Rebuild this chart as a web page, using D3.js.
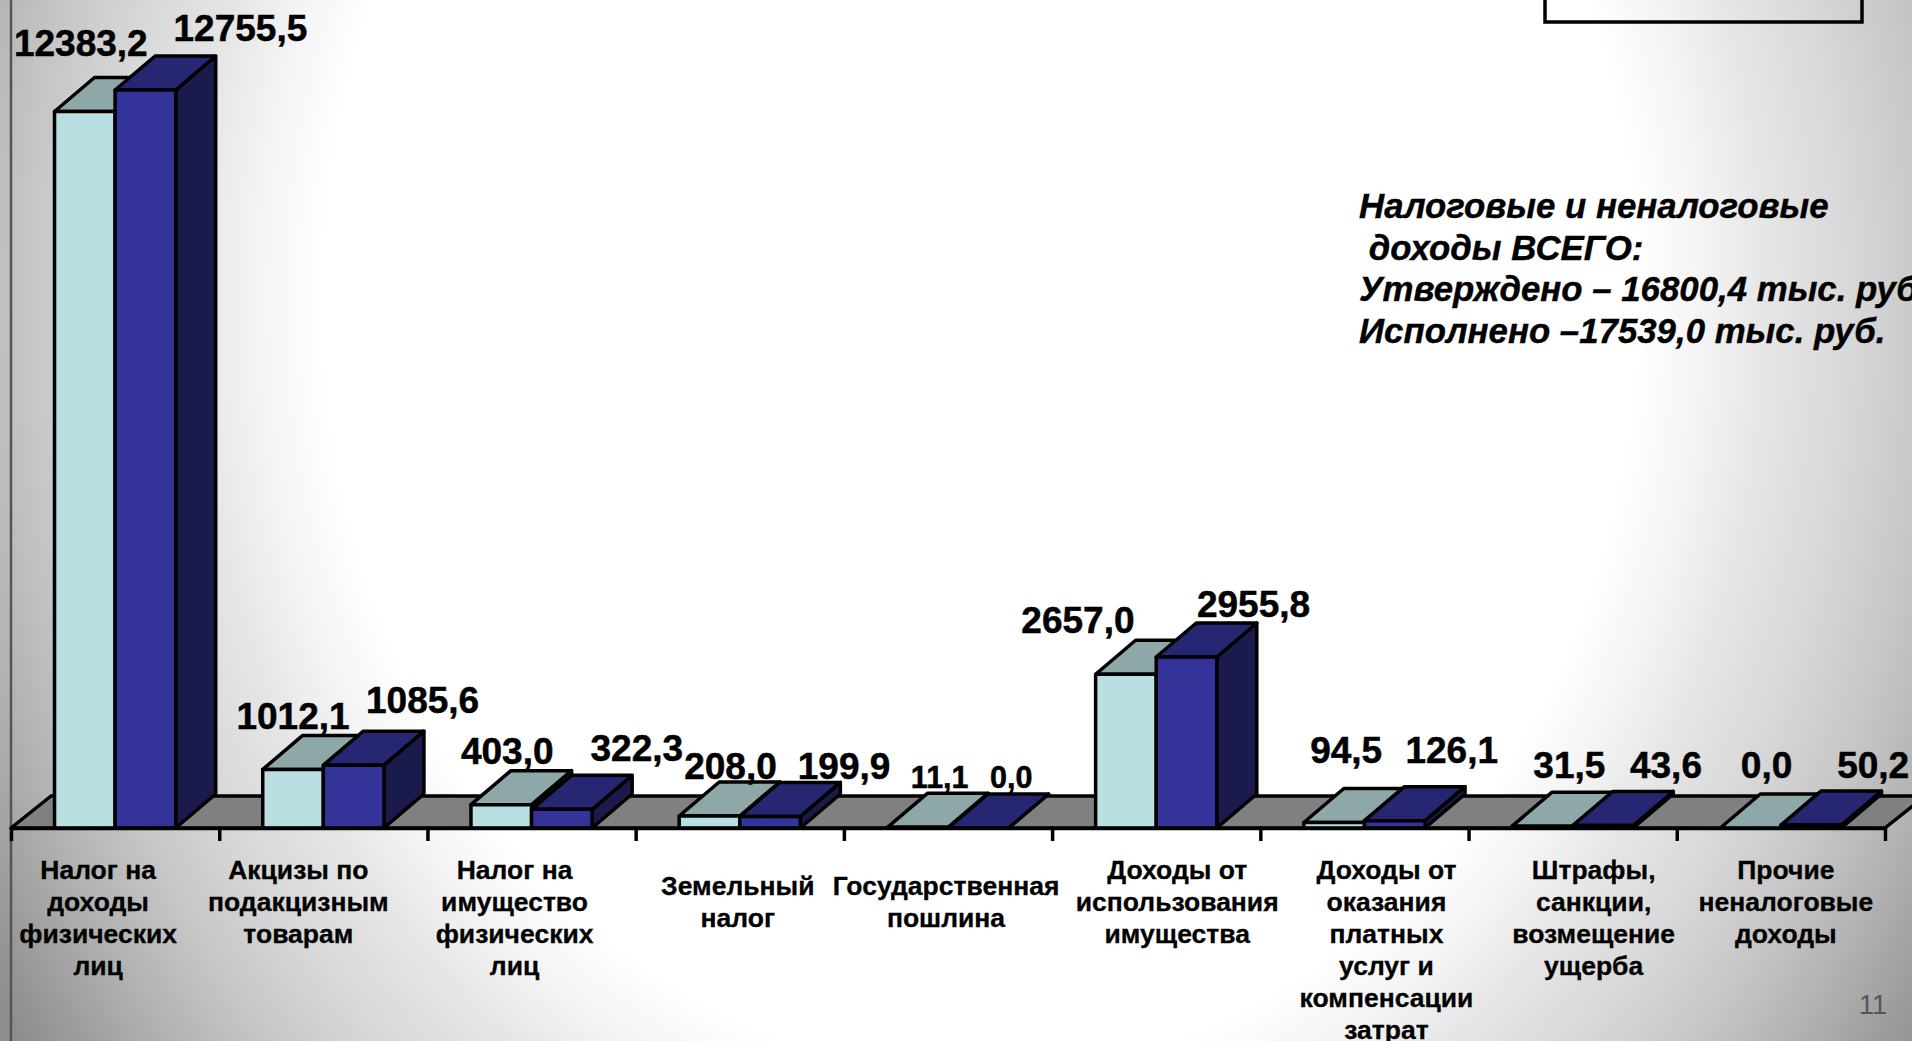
<!DOCTYPE html>
<html>
<head>
<meta charset="utf-8">
<script src="https://cdnjs.cloudflare.com/ajax/libs/d3/7.8.5/d3.min.js"></script>
<style>
html, body { margin: 0; padding: 0; background: #fff; overflow: hidden; }
text { font-family: "Liberation Sans", Arial, sans-serif; fill: #000; }
</style>
</head>
<body>
<svg id="chart" width="1912" height="1041"></svg>
<script>
var categories = [
    ["Налог на", "доходы", "физических", "лиц"],
    ["Акцизы по", "подакцизным", "товарам"],
    ["Налог на", "имущество", "физических", "лиц"],
    ["Земельный", "налог"],
    ["Государственная", "пошлина"],
    ["Доходы от", "использования", "имущества"],
    ["Доходы от", "оказания", "платных", "услуг и", "компенсации", "затрат"],
    ["Штрафы,", "санкции,", "возмещение", "ущерба"],
    ["Прочие", "неналоговые", "доходы"]
];
var approved = [12383.2, 1012.1, 403.0, 208.0, 11.1, 2657.0, 94.5, 31.5, 0.0];
var executed = [12755.5, 1085.6, 322.3, 199.9, 0.0, 2955.8, 126.1, 43.6, 50.2];
var note = [
    "Налоговые и неналоговые",
    " доходы ВСЕГО:",
    "Утверждено – 16800,4 тыс. руб.",
    "Исполнено –17539,0 тыс. руб."
];

// the labels in the slide were dragged by hand, so each one has its own nudge
var approvedNudge = [[-4, -56], [0, -40], [6, -41], [21, -37], [22, -39], [-48, -41], [12, -60], [27, -48], [16, -50]];
var executedNudge = [[95, -49], [69, -52], [75, -48], [74, -37], [33, -40], [67, -40], [57, -58], [63, -47], [62, -47]];
var labelNudge = [
    [-17, 0], [-25, 0], [-17, 0], [-2, 16], [-2, 16], [21, 0], [22, 0], [21, 0], [5, 0]
];

var W = 1912, H = 1041;
var baseY = 828, depthX = 40, depthY = 34, floorY = 32;

var svg = d3.select("#chart");

var defs = svg.append("defs");
var bg = defs.append("radialGradient")
    .attr("id", "bg")
    .attr("gradientUnits", "userSpaceOnUse")
    .attr("cx", 0).attr("cy", 0).attr("r", 1)
    .attr("gradientTransform", "translate(980,300) scale(1173,1377)");
[[0.56, "#fff"], [0.62, "#f3f3f3"], [0.67, "#e6e6e6"], [0.74, "#d8d8d8"], [0.812, "#c6c6c6"], [0.882, "#b0b0b0"], [0.976, "#8e8e8e"]]
    .forEach(function(s) {
        bg.append("stop").attr("offset", s[0]).attr("stop-color", s[1]);
    });

svg.append("rect").attr("width", W).attr("height", H).attr("fill", "url(#bg)");

// left edge of the plot runs down the whole slide
svg.append("line")
    .attr("x1", 11).attr("x2", 11).attr("y1", 0).attr("y2", H)
    .attr("stroke", "#555").attr("stroke-width", 2.5);

// empty legend box, cut by the top of the slide
svg.append("rect")
    .attr("x", 1545).attr("y", -40).attr("width", 317).attr("height", 62)
    .attr("fill", "none").attr("stroke", "#000").attr("stroke-width", 3.5);

var edges = d3.scaleLinear().domain([0, categories.length]).range([11, 1885]);
var x = d3.scaleBand()
    .domain(d3.range(categories.length))
    .range([11, 1885])
    .paddingInner(0.418)
    .paddingOuter(0.209);
var y = d3.scaleLinear().domain([0, 12755.5]).range([baseY, 90]);

// floor
var floorPts = [[11, baseY], [11 + depthX, baseY - floorY], [1885 + depthX, baseY - floorY], [1885, baseY]];
svg.append("path")
    .attr("d", d3.line()(floorPts) + "Z")
    .attr("fill", "#808080").attr("stroke", "#000").attr("stroke-width", 3.5)
    .attr("stroke-linejoin", "round");

var series = [
    { values: approved, nudge: approvedNudge, front: "#b8e0e2", top: "#8ea8aa", side: "#5f7678", at: 0 },
    { values: executed, nudge: executedNudge, front: "#333399", top: "#262673", side: "#1a1a4d", at: 1 }
];

var bars = [];
categories.forEach(function(c, i) {
    series.forEach(function(s) {
        bars.push({ i: i, s: s, v: s.values[i] });
    });
});

function barX(d) { return x(d.i) + d.s.at * x.bandwidth() / 2; }

var line = d3.line();
var g = svg.selectAll("g.bar").data(bars).enter().append("g").attr("class", "bar")
    .attr("stroke", "#000").attr("stroke-width", 3.5).attr("stroke-linejoin", "round");

g.append("path") // side
    .attr("fill", d => d.s.side)
    .attr("d", function(d) {
        var r = barX(d) + x.bandwidth() / 2, t = y(d.v);
        return line([[r, t], [r + depthX, t - depthY], [r + depthX, baseY - depthY], [r, baseY]]) + "Z";
    });
g.append("path") // top
    .attr("fill", d => d.s.top)
    .attr("d", function(d) {
        var l = barX(d), r = l + x.bandwidth() / 2, t = y(d.v);
        return line([[l, t], [l + depthX, t - depthY], [r + depthX, t - depthY], [r, t]]) + "Z";
    });
g.append("rect") // front
    .attr("fill", d => d.s.front)
    .attr("x", d => barX(d))
    .attr("y", d => y(d.v))
    .attr("width", x.bandwidth() / 2)
    .attr("height", d => baseY - y(d.v));

// axis ticks sit on the category edges
var axis = d3.axisBottom(edges)
    .tickValues(d3.range(categories.length + 1))
    .tickFormat("")
    .tickSize(13)
    .tickSizeOuter(0);
svg.append("g")
    .attr("transform", "translate(0," + baseY + ")")
    .call(axis)
    .call(a => a.selectAll("path,line").attr("stroke", "#000").attr("stroke-width", 3.5));

// value labels
svg.selectAll("text.value").data(bars).enter().append("text")
    .attr("class", "value")
    .attr("text-anchor", "middle")
    .attr("font-weight", "bold")
    .attr("font-size", d => d.i === 4 ? 30.5 : 37)
    .attr("x", d => barX(d) + x.bandwidth() / 4 + d.s.nudge[d.i][0])
    .attr("y", d => y(d.v) + d.s.nudge[d.i][1])
    .attr("stroke", "#000").attr("stroke-width", 0.5)
    .text(d => d.v.toFixed(1).replace(".", ","));

// category labels
categories.forEach(function(lines, i) {
    var cx = (edges(i) + edges(i + 1)) / 2 + labelNudge[i][0];
    svg.append("text")
        .attr("text-anchor", "middle")
        .attr("font-weight", "bold")
        .attr("font-size", 26.5)
        .attr("stroke", "#000").attr("stroke-width", 0.3)
        .selectAll("tspan").data(lines).enter().append("tspan")
        .attr("x", cx)
        .attr("y", (d, k) => 879 + labelNudge[i][1] + k * 32)
        .text(d => d);
});

// note on the right
svg.append("text")
    .attr("font-weight", "bold")
    .attr("font-style", "italic")
    .attr("font-size", 34.8)
    .attr("stroke", "#000").attr("stroke-width", 0.4)
    .style("white-space", "pre")
    .selectAll("tspan").data(note).enter().append("tspan")
    .attr("x", 1359)
    .attr("y", (d, k) => 218 + k * 41.7)
    .text(d => d);

svg.append("text")
    .attr("x", 1887).attr("y", 1014)
    .attr("text-anchor", "end")
    .attr("font-size", 27)
    .style("fill", "#555")
    .text("11");
</script>
</body>
</html>
